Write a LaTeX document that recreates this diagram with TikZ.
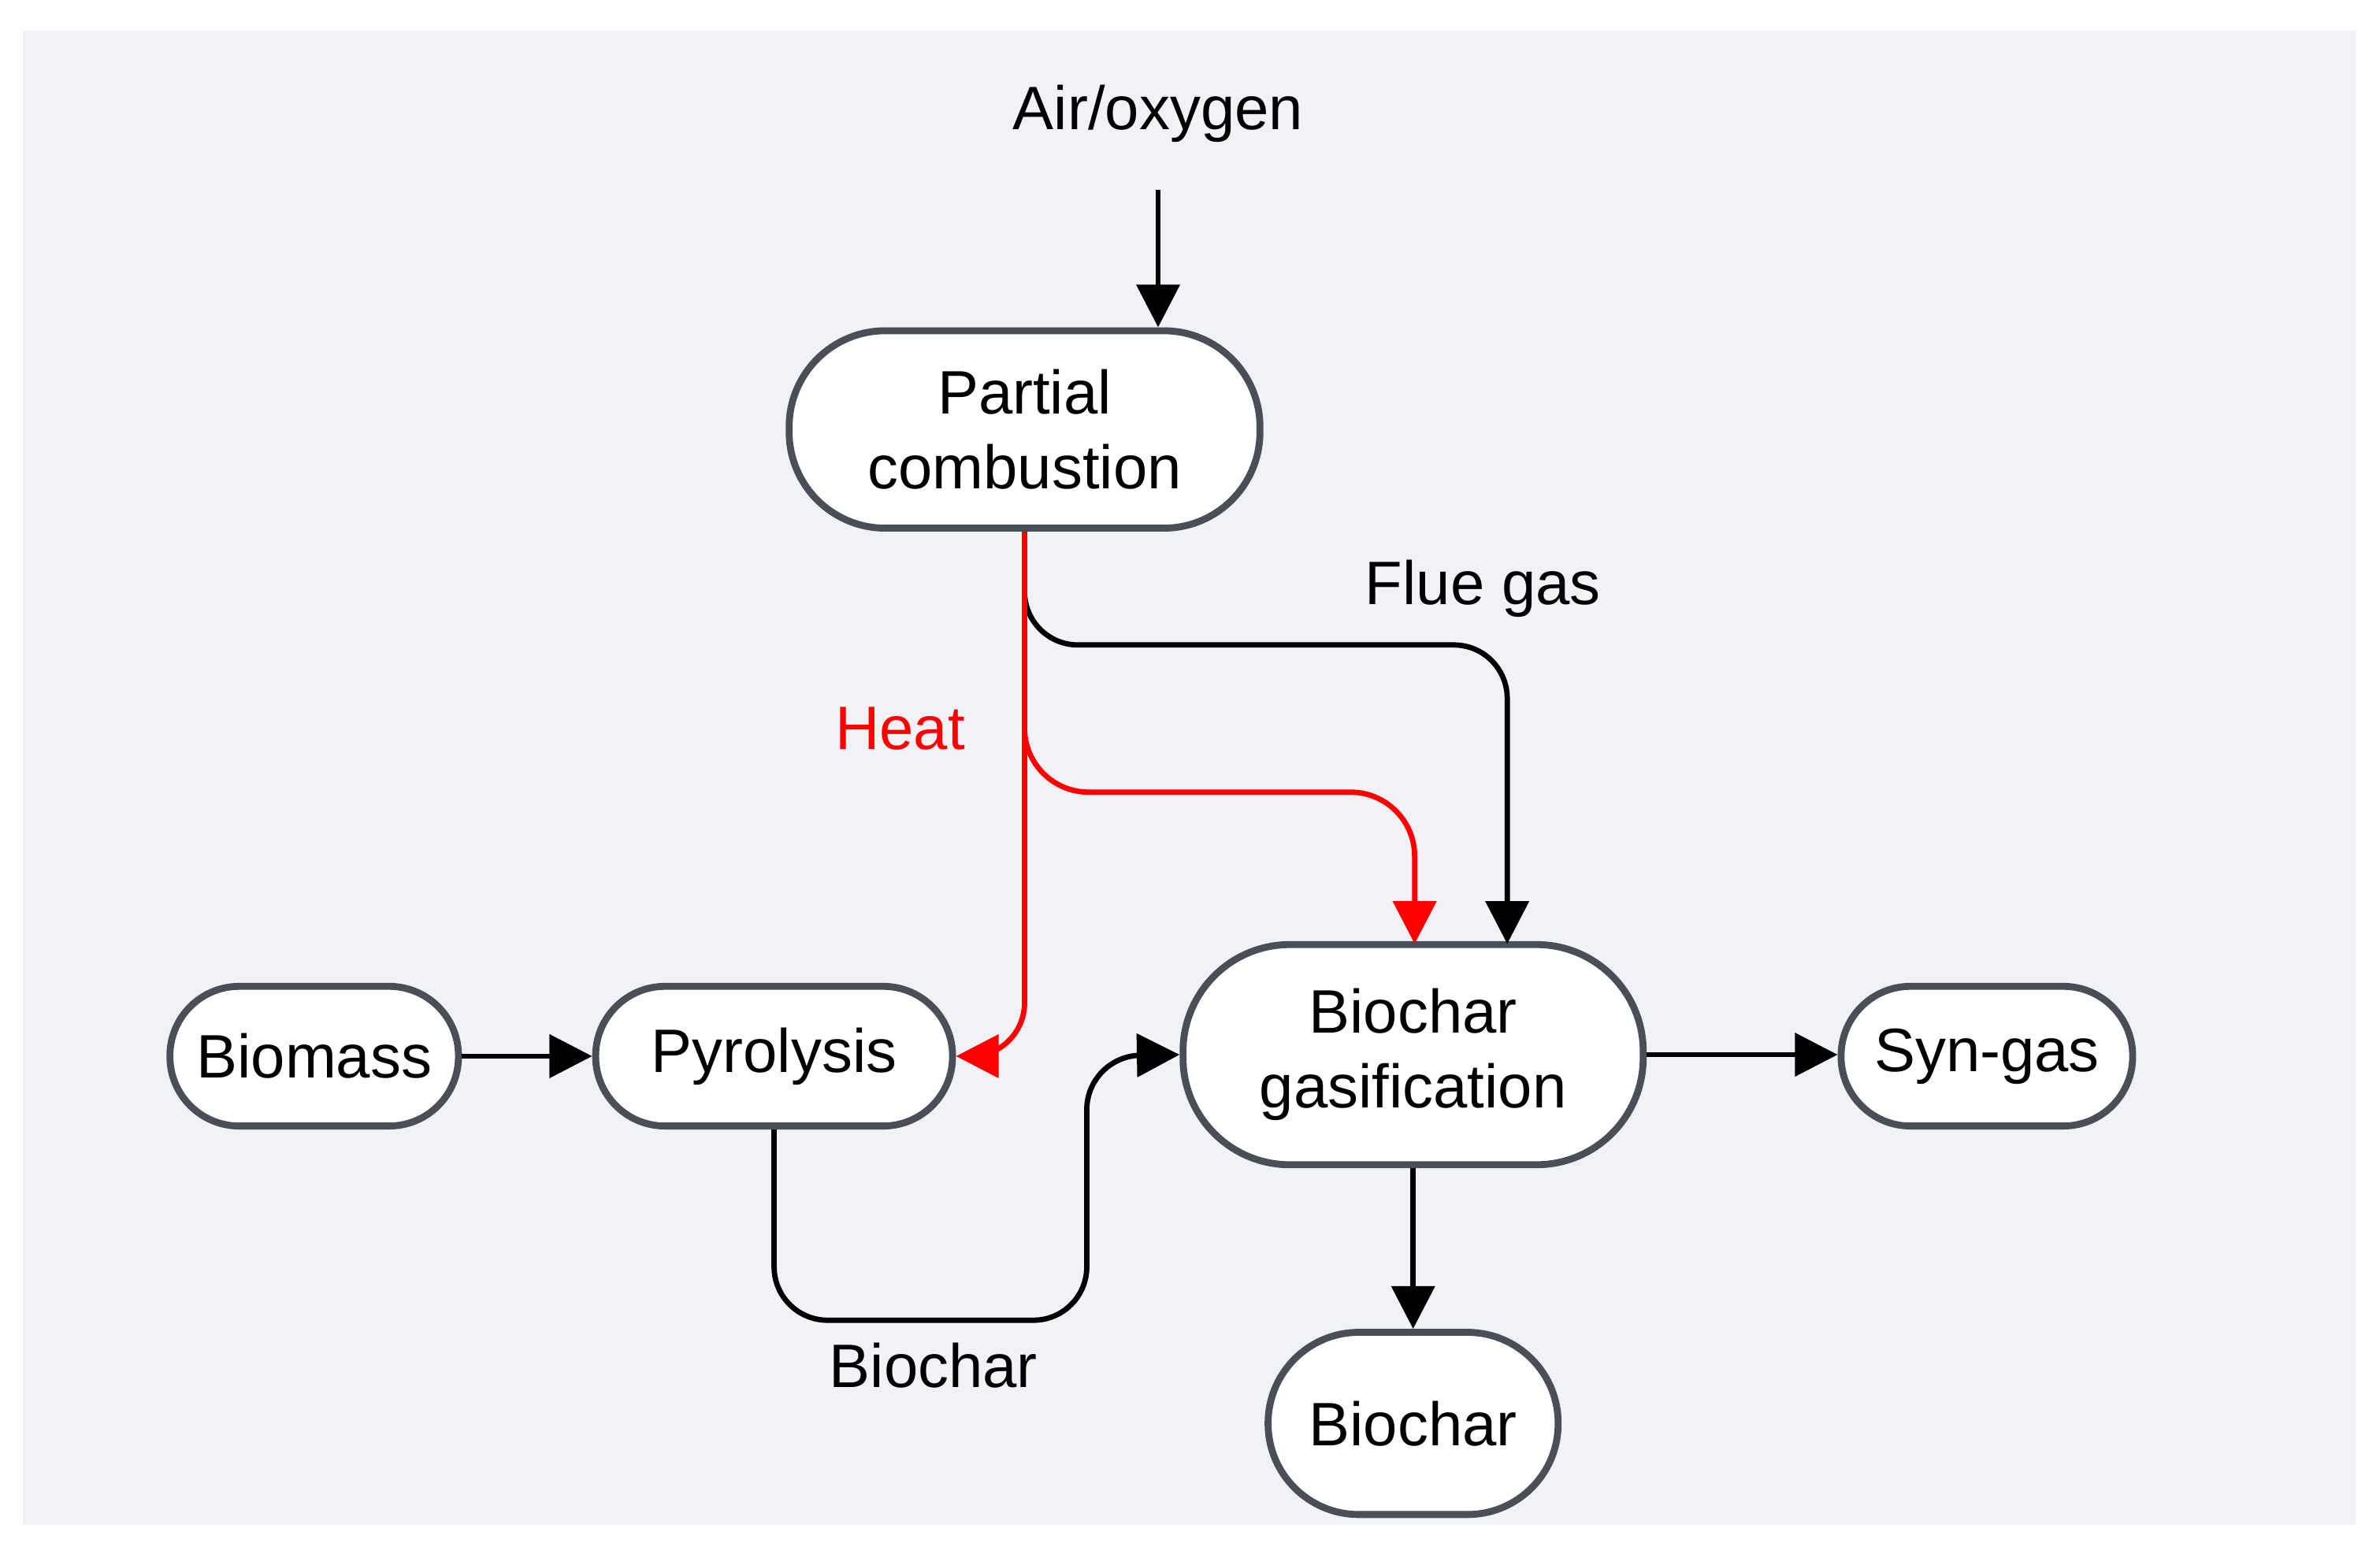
\documentclass[tikz,border=0pt]{standalone}
\usepackage{fontspec}
\setmainfont{Liberation Sans}
\usetikzlibrary{arrows.meta}
\definecolor{bd}{HTML}{4A4E56}
\definecolor{bgc}{HTML}{F1F2F5}
\begin{document}
\begin{tikzpicture}[x=0.01cm,y=-0.01cm,
  box/.style={draw=bd,line width=1.3pt,fill=white,rounded corners=#1,inner sep=0pt,align=center,font=\fontsize{11.5}{14}\selectfont},
  lbl/.style={font=\fontsize{11.5}{14}\selectfont},
  arr/.style={line width=1pt,-{Triangle[length=8pt,width=8pt]},rounded corners=10pt}]
\fill[white] (0,0) rectangle (1568,1024);
\fill[bgc] (15,20) rectangle (1552,1005);
\node[box=18pt,minimum width=3.1cm,minimum height=1.3cm] (pc) at (675,283) {Partial\\combustion};
\node[box=13pt,minimum width=1.9cm,minimum height=0.92cm] (bm) at (207,696) {Biomass};
\node[box=13pt,minimum width=2.35cm,minimum height=0.92cm] (py) at (510,696) {Pyrolysis};
\node[box=20pt,minimum width=3.03cm,minimum height=1.45cm] (bg) at (931,695) {Biochar\\gasification};
\node[box=13pt,minimum width=1.92cm,minimum height=0.92cm] (sg) at (1309,696) {Syn-gas};
\node[box=17pt,minimum width=1.91cm,minimum height=1.2cm] (bc) at (931,938) {Biochar};
\node[lbl] (air) at (763,75) {Air/oxygen};
\coordinate (airs) at (763,125);
\node[lbl] (flue) at (977,388) {Flue gas};
\node[lbl,text=red] (heat) at (593,480) {Heat};
\node[lbl] (bcl) at (615,900) {Biochar};
\draw[arr] (airs) -- (airs|-pc.north);
\draw[arr] (pc.south) -- (675,425) -- (993,425) -- (993,622);
\draw[arr,red] (pc.south) -- (675,696) -- (py.east);
\draw[arr,red] (675,480) [rounded corners=12pt] -- (675,522) -- (932,522) -- (932,622);
\draw[arr] (bm) -- (py);
\draw[arr] (py.south) -- (510,870) -- (716,870) -- (716,696) -- (bg.west);
\draw[arr] (bg.east) -- (bg.east-|sg.west);
\draw[arr] (bg) -- (bc);
\end{tikzpicture}
\end{document}
